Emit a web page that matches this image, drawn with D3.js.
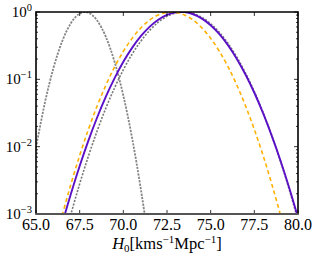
<!DOCTYPE html>
<html>
<head>
<meta charset="utf-8">
<script src="https://cdn.jsdelivr.net/npm/d3@7"></script>
<style>
  body { margin: 0; background: #fff; }
  svg { display: block; }
</style>
</head>
<body>
<svg width="318" height="259"></svg>
<script>
var width = 318, height = 259;
var margin = {left: 36, right: 20, top: 12, bottom: 45};

// H0 grid (km/s/Mpc) and normalised likelihoods
var h0 = [65, 65.5, 66, 66.5, 67, 67.5, 68, 68.5, 69, 69.5, 70, 70.5, 71, 71.5, 72,
  72.5, 73, 73.5, 74, 74.5, 75, 75.5, 76, 76.5, 77, 77.5, 78, 78.5, 79, 79.5, 80];

var lowH0 = [9.73e-3, 4.39e-2, 0.1475, 0.368, 0.685, 0.948, 0.977, 0.748, 0.427, 0.181,
  5.73e-2, 1.35e-2, 2.36e-3, 3.07e-4, 2.98e-5];

var highDotted = [7.11e-6, 2.77e-5, 9.96e-5, 3.29e-4, 1.00e-3, 2.80e-3, 7.22e-3, 1.71e-2,
  3.74e-2, 7.50e-2, 0.139, 0.236, 0.369, 0.532, 0.705, 0.861, 0.967, 1.00, 0.951, 0.833,
  0.671, 0.498, 0.340, 0.213, 0.123, 6.57e-2, 3.22e-2, 1.45e-2, 6.01e-3, 2.30e-3, 8.07e-4];

var combined = [2.07e-5, 7.29e-5, 2.38e-4, 7.18e-4, 2.00e-3, 5.16e-3, 1.23e-2, 2.71e-2,
  5.53e-2, 0.104, 0.182, 0.293, 0.437, 0.602, 0.767, 0.905, 0.986, 0.994, 0.926, 0.798,
  0.636, 0.469, 0.319, 0.201, 0.117, 6.32e-2, 3.15e-2, 1.45e-2, 6.18e-3, 2.43e-3, 8.86e-4];

var orangeDashed = [2.28e-5, 8.65e-5, 3.01e-4, 9.57e-4, 2.78e-3, 7.40e-3, 1.80e-2, 4.02e-2,
  8.18e-2, 0.153, 0.260, 0.406, 0.580, 0.757, 0.905, 0.989, 0.989, 0.905, 0.757, 0.580,
  0.406, 0.260, 0.153, 8.18e-2, 4.02e-2, 1.80e-2, 7.40e-3, 2.78e-3, 9.57e-4, 3.01e-4, 8.65e-5];

var xTicks = [65, 67.5, 70, 72.5, 75, 77.5, 80];
var yTicks = [1e-3, 1e-2, 1e-1, 1];
var yExp = ['-3', '-2', '-1', '0'];

var series = [
  {values: lowH0, color: '#858585', dash: '2.2,1.2', w: 1.8},
  {values: highDotted, color: '#777777', dash: '2,1.5', w: 1.6},
  {values: combined, color: '#5b10c8', dash: null, w: 1.9},
  {values: orangeDashed, color: '#ffb000', dash: '4,3', w: 1.6}
];

var x = d3.scaleLinear().domain([65, 80]).range([margin.left, width - margin.right]);
var y = d3.scaleLog().domain([1e-3, 1]).range([height - margin.bottom, margin.top]);

var svg = d3.select('svg');

svg.append('clipPath').attr('id', 'plot')
  .append('rect')
  .attr('x', x(65)).attr('y', y(1))
  .attr('width', x(80) - x(65)).attr('height', y(1e-3) - y(1));

var line = d3.line()
  .defined(function(d) { return d[1] != null; })
  .x(function(d) { return x(d[0]); })
  .y(function(d) { return y(d[1]); })
  .curve(d3.curveCatmullRom.alpha(0));

svg.append('g').attr('clip-path', 'url(#plot)')
  .selectAll('path')
  .data(series)
  .enter()
  .append('path')
  .attr('d', function(s) {
    return line(h0.map(function(h, i) { return [h, i < s.values.length ? s.values[i] : null]; }));
  })
  .attr('fill', 'none')
  .attr('stroke', function(s) { return s.color; })
  .attr('stroke-width', function(s) { return s.w; })
  .attr('stroke-dasharray', function(s) { return s.dash; });

// ticks, inward on all four sides
var minor = [];
[1e-3, 1e-2, 1e-1].forEach(function(dec) {
  for (var k = 2; k <= 9; k++) minor.push(dec * k);
});

var tk = svg.append('g').attr('stroke', '#000').attr('stroke-width', 0.8);
xTicks.forEach(function(t) {
  tk.append('line').attr('x1', x(t)).attr('x2', x(t)).attr('y1', y(1e-3)).attr('y2', y(1e-3) - 4);
  tk.append('line').attr('x1', x(t)).attr('x2', x(t)).attr('y1', y(1)).attr('y2', y(1) + 4);
});
yTicks.forEach(function(t) {
  tk.append('line').attr('x1', x(65)).attr('x2', x(65) + 4).attr('y1', y(t)).attr('y2', y(t));
  tk.append('line').attr('x1', x(80)).attr('x2', x(80) - 4).attr('y1', y(t)).attr('y2', y(t));
});
minor.forEach(function(t) {
  tk.append('line').attr('x1', x(65)).attr('x2', x(65) + 2).attr('y1', y(t)).attr('y2', y(t));
  tk.append('line').attr('x1', x(80)).attr('x2', x(80) - 2).attr('y1', y(t)).attr('y2', y(t));
});

// frame
svg.append('path')
  .attr('d', 'M' + x(65) + ',' + y(1e-3) + 'V' + y(1) + 'H' + x(80) + 'V' + y(1e-3))
  .attr('fill', 'none').attr('stroke', '#000').attr('stroke-width', 1.6);
svg.append('line')
  .attr('x1', x(65) - 0.8).attr('x2', x(80) + 0.8).attr('y1', y(1e-3)).attr('y2', y(1e-3))
  .attr('stroke', '#555').attr('stroke-width', 1.8);

var font = '"Liberation Serif", "DejaVu Serif", serif';

svg.append('g').selectAll('text')
  .data(xTicks).enter().append('text')
  .attr('x', function(d) { return x(d); })
  .attr('y', y(1e-3) + 16)
  .attr('text-anchor', 'middle')
  .style('font-family', font).style('font-size', '16px')
  .text(function(d) { return d.toFixed(1); });

var yl = svg.append('g').selectAll('text')
  .data(yTicks).enter().append('text')
  .attr('x', x(65) - 4)
  .attr('y', function(d) { return y(d) + 5; })
  .attr('text-anchor', 'end')
  .style('font-family', font).style('font-size', '15px');
yl.append('tspan').text('10');
yl.append('tspan').attr('dy', -6).style('font-size', '10.5px')
  .text(function(d, i) { return yExp[i].replace('-', '\u2212'); });

var xl = svg.append('text')
  .attr('x', (x(65) + x(80)) / 2)
  .attr('y', 249)
  .attr('text-anchor', 'middle')
  .style('font-family', font).style('font-size', '16.5px');
xl.append('tspan').style('font-style', 'italic').text('H');
xl.append('tspan').attr('dy', 3).style('font-size', '11px').text('0');
xl.append('tspan').attr('dy', -3).text('[kms');
xl.append('tspan').attr('dy', -6).style('font-size', '11px').text('\u22121');
xl.append('tspan').attr('dy', 6).text('Mpc');
xl.append('tspan').attr('dy', -6).style('font-size', '11px').text('\u22121');
xl.append('tspan').attr('dy', 6).text(']');
</script>
</body>
</html>
